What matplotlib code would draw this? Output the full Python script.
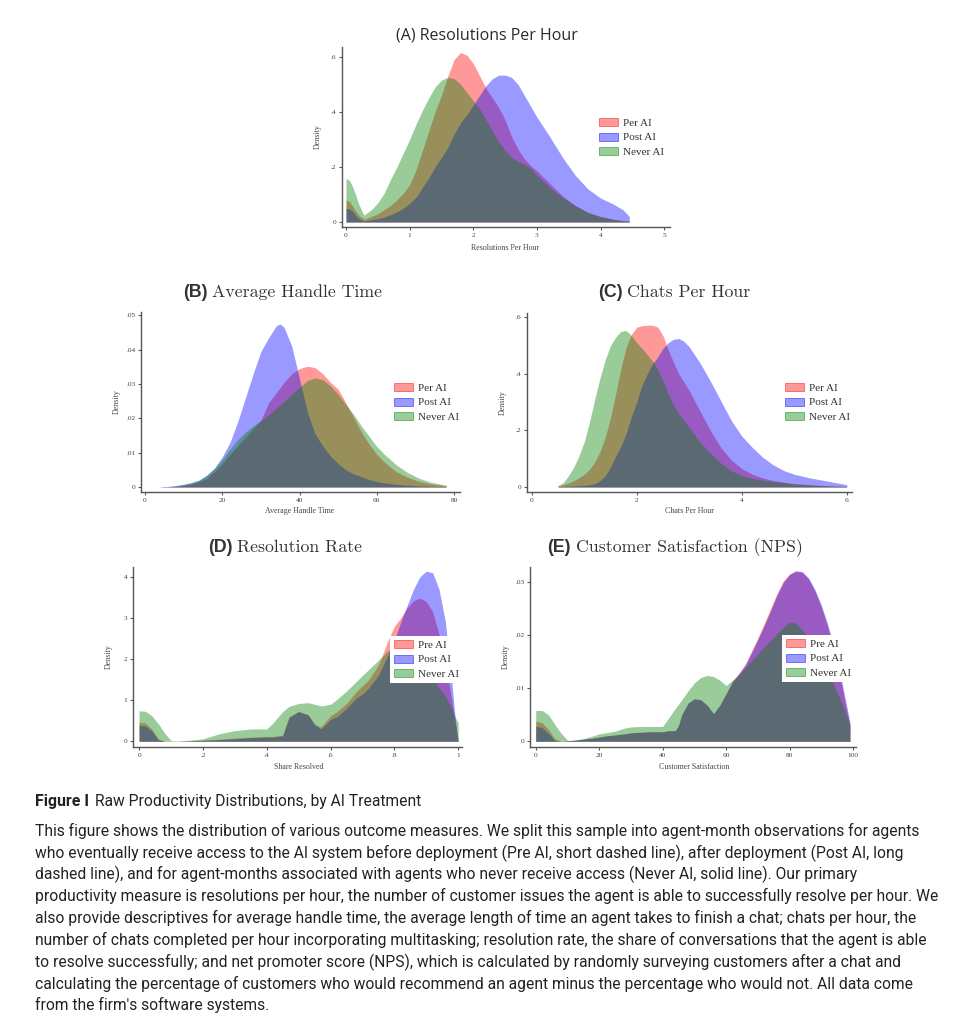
import matplotlib
matplotlib.use('Agg')
import matplotlib.pyplot as plt
from matplotlib.patches import Patch
from matplotlib import font_manager
from matplotlib.font_manager import FontProperties

W, H = 958, 1024

# (A) resolutions per hour
a_x = [0, 0.05, 0.1, 0.15, 0.2, 0.28, 0.4, 0.5, 0.6, 0.7, 0.8, 0.9, 1.0, 1.1, 1.2, 1.3, 1.4, 1.5,
       1.6, 1.7, 1.8, 1.9, 2.0, 2.1, 2.2, 2.3, 2.4, 2.5, 2.6, 2.7, 2.8, 2.9, 3.0, 3.2, 3.4, 3.6,
       3.8, 4.0, 4.2, 4.35, 4.45]
a_pre = [0.08, 0.075, 0.06, 0.04, 0.025, 0.01, 0.02, 0.03, 0.045, 0.06, 0.08, 0.105, 0.135, 0.19,
         0.26, 0.33, 0.40, 0.46, 0.53, 0.59, 0.615, 0.605, 0.575, 0.53, 0.485, 0.45, 0.415, 0.37,
         0.31, 0.265, 0.23, 0.205, 0.185, 0.14, 0.095, 0.06, 0.035, 0.02, 0.01, 0.005, 0.003]
a_post = [0.05, 0.048, 0.04, 0.025, 0.012, 0.004, 0.008, 0.012, 0.018, 0.027, 0.037, 0.05, 0.068,
          0.09, 0.125, 0.16, 0.2, 0.235, 0.27, 0.32, 0.36, 0.39, 0.425, 0.46, 0.495, 0.52, 0.533,
          0.533, 0.525, 0.5, 0.46, 0.42, 0.38, 0.31, 0.235, 0.17, 0.12, 0.087, 0.065, 0.045, 0.02]
a_never = [0.158, 0.152, 0.13, 0.1, 0.065, 0.025, 0.045, 0.07, 0.105, 0.155, 0.2, 0.25, 0.30, 0.355,
           0.405, 0.45, 0.49, 0.515, 0.525, 0.52, 0.5, 0.47, 0.44, 0.41, 0.37, 0.33, 0.29, 0.26,
           0.235, 0.22, 0.21, 0.195, 0.17, 0.125, 0.09, 0.06, 0.035, 0.02, 0.01, 0.006, 0.004]

# (B) average handle time
b_x = [4, 6, 8, 10, 12, 14, 16, 18, 20, 22, 24, 26, 28, 30, 32, 34, 35, 36, 38, 40, 42, 44, 46,
       48, 50, 52, 54, 56, 58, 60, 62, 65, 68, 71, 74, 78]
b_pre = [0.0, 0.0001, 0.0002, 0.0004, 0.0008, 0.0015, 0.0025, 0.0045, 0.0068, 0.0095, 0.012,
         0.0145, 0.017, 0.0195, 0.0245, 0.0275, 0.029, 0.0305, 0.033, 0.0345, 0.0352, 0.0348,
         0.033, 0.0305, 0.0285, 0.0245, 0.0203, 0.016, 0.0125, 0.0095, 0.0072, 0.0045, 0.0028,
         0.0016, 0.0009, 0.0003]
b_post = [0.0001, 0.0002, 0.0004, 0.0008, 0.0013, 0.002, 0.0035, 0.0055, 0.0088, 0.013, 0.019,
          0.026, 0.033, 0.0395, 0.0435, 0.047, 0.0475, 0.0465, 0.041, 0.0315, 0.022, 0.0155,
          0.012, 0.009, 0.0068, 0.005, 0.0038, 0.003, 0.0022, 0.0016, 0.0012, 0.0008, 0.0005,
          0.0003, 0.0002, 0.0001]
b_never = [0.0, 0.0001, 0.0003, 0.0007, 0.0012, 0.002, 0.0033, 0.0055, 0.008, 0.011, 0.0138,
           0.016, 0.0178, 0.0193, 0.021, 0.023, 0.024, 0.025, 0.027, 0.029, 0.031, 0.0318,
           0.0313, 0.0295, 0.027, 0.024, 0.0212, 0.0178, 0.0148, 0.0118, 0.0095, 0.0065, 0.0042,
           0.0025, 0.0014, 0.0005]

# (C) chats per hour
c_x = [0.5, 0.6, 0.7, 0.8, 0.9, 1.0, 1.1, 1.2, 1.3, 1.4, 1.5, 1.6, 1.7, 1.8, 1.9, 2.0, 2.1, 2.2,
       2.3, 2.4, 2.5, 2.6, 2.7, 2.8, 2.9, 3.0, 3.2, 3.4, 3.6, 3.8, 4.0, 4.2, 4.4, 4.6, 4.8, 5.0,
       5.3, 5.6, 6.0]
c_pre = [0.004, 0.008, 0.014, 0.022, 0.032, 0.045, 0.062, 0.088, 0.125, 0.175, 0.245, 0.33, 0.42,
         0.495, 0.54, 0.565, 0.57, 0.572, 0.572, 0.565, 0.535, 0.485, 0.44, 0.4, 0.37, 0.34, 0.27,
         0.2, 0.14, 0.095, 0.065, 0.045, 0.032, 0.023, 0.017, 0.012, 0.008, 0.005, 0.002]
c_post = [0.001, 0.002, 0.003, 0.004, 0.005, 0.006, 0.008, 0.012, 0.022, 0.04, 0.07, 0.11, 0.145,
          0.19, 0.25, 0.3, 0.36, 0.4, 0.435, 0.46, 0.49, 0.51, 0.522, 0.525, 0.515, 0.495, 0.44,
          0.375, 0.305, 0.235, 0.18, 0.14, 0.105, 0.078, 0.058, 0.045, 0.032, 0.022, 0.008]
c_never = [0.005, 0.015, 0.04, 0.07, 0.11, 0.16, 0.23, 0.31, 0.385, 0.45, 0.5, 0.53, 0.55, 0.553,
           0.535, 0.51, 0.49, 0.468, 0.445, 0.415, 0.375, 0.33, 0.29, 0.26, 0.235, 0.21, 0.16, 0.12,
           0.085, 0.058, 0.04, 0.03, 0.024, 0.019, 0.015, 0.011, 0.007, 0.004, 0.002]

# (D) resolution rate
d_x = [0, 0.02, 0.04, 0.06, 0.08, 0.1, 0.12, 0.15, 0.2, 0.25, 0.3, 0.35, 0.4, 0.42, 0.45, 0.47,
       0.5, 0.53, 0.55, 0.57, 0.6, 0.62, 0.65, 0.68, 0.7, 0.72, 0.75, 0.78, 0.8, 0.82, 0.84, 0.86,
       0.88, 0.9, 0.92, 0.94, 0.96, 0.98, 0.99, 1.0]
d_pre = [0.47, 0.44, 0.3, 0.06, 0.0, 0.0, 0.0, 0.01, 0.03, 0.05, 0.08, 0.1, 0.12, 0.12, 0.15, 0.6,
         0.73, 0.65, 0.4, 0.35, 0.62, 0.72, 0.92, 1.2, 1.35, 1.5, 1.85, 2.45, 2.8, 3.0, 3.25, 3.42,
         3.48, 3.4, 3.15, 2.6, 1.9, 1.0, 0.5, 0.0]
d_post = [0.39, 0.37, 0.25, 0.04, 0.0, 0.0, 0.0, 0.01, 0.02, 0.04, 0.06, 0.09, 0.1, 0.1, 0.13,
          0.58, 0.72, 0.64, 0.42, 0.3, 0.53, 0.6, 0.8, 1.05, 1.15, 1.3, 1.6, 2.1, 2.45, 2.9, 3.3,
          3.7, 4.0, 4.14, 4.1, 3.7, 2.9, 1.45, 0.6, 0.0]
d_never = [0.74, 0.73, 0.62, 0.43, 0.2, 0.02, 0.01, 0.02, 0.06, 0.18, 0.26, 0.3, 0.3, 0.45, 0.72,
           0.85, 0.92, 0.94, 0.9, 0.86, 0.9, 1.02, 1.22, 1.45, 1.6, 1.75, 1.97, 2.2, 2.3, 2.32,
           2.3, 2.2, 2.02, 1.8, 1.55, 1.3, 1.1, 0.8, 0.6, 0.45]

# (E) customer satisfaction
e_x = [0, 2, 4, 6, 8, 10, 12, 15, 18, 20, 22, 25, 28, 30, 33, 36, 40, 42, 44, 45, 46, 48, 50, 52,
       54, 56, 58, 60, 62, 64, 66, 68, 70, 72, 74, 76, 78, 80, 82, 84, 86, 88, 90, 92, 94, 96, 98, 99]
e_pre = [0.0038, 0.0035, 0.0022, 0.0005, 0.0, 0.0001, 0.0002, 0.0004, 0.0006, 0.0008, 0.001, 0.0012,
         0.0014, 0.0016, 0.0017, 0.0018, 0.0018, 0.002, 0.002, 0.003, 0.005, 0.0072, 0.008, 0.0078,
         0.0068, 0.0052, 0.0068, 0.009, 0.0113, 0.0128, 0.0145, 0.017, 0.0195, 0.0222, 0.025,
         0.0278, 0.0302, 0.0315, 0.032, 0.0318, 0.0305, 0.0282, 0.0252, 0.0215, 0.017, 0.0118,
         0.0058, 0.003]
e_post = [0.0028, 0.0026, 0.0015, 0.0002, 0.0, 0.0001, 0.0002, 0.0004, 0.0006, 0.0008, 0.001, 0.0012,
          0.0014, 0.0016, 0.0017, 0.0018, 0.0018, 0.002, 0.002, 0.003, 0.005, 0.0072, 0.008, 0.0078,
          0.0068, 0.0052, 0.0068, 0.009, 0.0112, 0.0127, 0.0143, 0.0167, 0.0192, 0.0218, 0.0246,
          0.0275, 0.0299, 0.0314, 0.0321, 0.0319, 0.0307, 0.0285, 0.0256, 0.022, 0.0176, 0.0125,
          0.0065, 0.0035]
e_never = [0.0058, 0.0058, 0.005, 0.0032, 0.0015, 0.0002, 0.0002, 0.0005, 0.001, 0.0014, 0.0016,
           0.0019, 0.0025, 0.0027, 0.0028, 0.0028, 0.0028, 0.0045, 0.0062, 0.007, 0.0078, 0.0095,
           0.011, 0.012, 0.0124, 0.0122, 0.0115, 0.0105, 0.0115, 0.0125, 0.0138, 0.0152, 0.0165,
           0.0178, 0.019, 0.0203, 0.0215, 0.0225, 0.0222, 0.021, 0.0195, 0.0178, 0.0155, 0.013,
           0.0105, 0.0078, 0.0048, 0.003]

COLORS = [(1, 0, 0, 0.4), (0, 0, 1, 0.4), (0, 0.5, 0, 0.4)]
SERIF = 'Liberation Serif'
TEXT = '#333333'


def pick_font(names):
    for name in names:
        try:
            font_manager.findfont(FontProperties(family=name), fallback_to_default=False)
            return name
        except Exception:
            pass
    return 'DejaVu Sans'


def fig_pt(x, y):
    return x / W, 1 - y / H


def panel(fig, box, xlim, ylim, x, series, xticks, xlabels, yticks, ylabels,
          xlabel, xlabel_y, legend_xy, legend_labels):
    left, right, top, bottom = box
    ax = fig.add_axes([left / W, 1 - bottom / H, (right - left) / W, (bottom - top) / H])
    for ys, col in zip(series, COLORS):
        ax.fill_between(x, 0, ys, color=col, linewidth=0)
    ax.set_xlim(*xlim)
    ax.set_ylim(*ylim)
    for s in ['top', 'right']:
        ax.spines[s].set_visible(False)
    for s in ['left', 'bottom']:
        ax.spines[s].set_color('#555555')
        ax.spines[s].set_linewidth(1.0)
    ax.set_xticks(xticks, xlabels)
    ax.set_yticks(yticks, ylabels)
    ax.tick_params(length=2.5, width=0.8, color='#555555', labelsize=5.3, pad=1.5,
                   labelcolor='#444444')
    for lab in ax.get_xticklabels() + ax.get_yticklabels():
        lab.set_fontfamily(SERIF)

    xc = (ax.transData.transform((xticks[0], 0))[0] + ax.transData.transform((xticks[-1], 0))[0]) / 2
    fig.text(xc / W, 1 - xlabel_y / H, xlabel, ha='center', va='center', fontsize=5.7,
             fontfamily=SERIF, color='#444444')
    fig.text((left - 24) / W, 1 - (top + bottom) / 2 / H, 'Density', rotation=90, ha='center',
             va='center', fontsize=5.7, fontfamily=SERIF, color='#444444')

    handles = [Patch(facecolor=c, edgecolor=c[:3] + (0.55,), linewidth=0.6) for c in COLORS]
    ax.legend(handles, legend_labels, loc='upper left', bbox_to_anchor=fig_pt(*legend_xy),
              bbox_transform=fig.transFigure, frameon=True, facecolor='white', edgecolor='none',
              fancybox=False, framealpha=1, borderpad=0.35, borderaxespad=0,
              prop={'family': SERIF, 'size': 8}, handlelength=1.75, handleheight=0.75,
              handletextpad=0.4, labelspacing=0.42, labelcolor='#333333')
    return ax


def panel_title(fig, renderer, cx, base_y, tag, name, tag_font, name_font, size):
    t1 = fig.text(0, 0, tag, fontfamily=tag_font, fontweight='bold', fontsize=size * 1.0,
                  color=TEXT, va='baseline')
    t2 = fig.text(0, 0, name, fontfamily=name_font, fontsize=size, color=TEXT, va='baseline')
    w1 = t1.get_window_extent(renderer).width
    w2 = t2.get_window_extent(renderer).width
    gap = size * 0.35
    x0 = cx - (w1 + gap + w2) / 2
    t1.set_position(fig_pt(x0, base_y))
    t2.set_position(fig_pt(x0 + w1 + gap, base_y))


fig = plt.figure(figsize=(W / 100, H / 100), dpi=100)
fig.patch.set_facecolor('white')
renderer = fig.canvas.get_renderer()

per = ['Per AI', 'Post AI', 'Never AI']
pre = ['Pre AI', 'Post AI', 'Never AI']

panel(fig, (342, 670, 47, 227), (-0.063, 5.09), (-0.018, 0.635), a_x, [a_pre, a_post, a_never],
      [0, 1, 2, 3, 4, 5], ['0', '1', '2', '3', '4', '5'], [0, 0.2, 0.4, 0.6], ['0', '.2', '.4', '.6'],
      'Resolutions Per Hour', 248, (595, 114), per)
panel(fig, (141, 460, 312, 492), (-1.04, 81.55), (-0.00146, 0.051), b_x, [b_pre, b_post, b_never],
      [0, 20, 40, 60, 80], ['0', '20', '40', '60', '80'],
      [0, 0.01, 0.02, 0.03, 0.04, 0.05], ['0', '.01', '.02', '.03', '.04', '.05'],
      'Average Handle Time', 511, (390, 379), per)
panel(fig, (527, 852, 313, 492), (-0.09, 6.1), (-0.0177, 0.615), c_x, [c_pre, c_post, c_never],
      [0, 2, 4, 6], ['0', '2', '4', '6'], [0, 0.2, 0.4, 0.6], ['0', '.2', '.4', '.6'],
      'Chats Per Hour', 511, (781, 379), per)
panel(fig, (133, 462, 567, 747), (-0.019, 1.012), (-0.139, 4.24), d_x, [d_pre, d_post, d_never],
      [0, 0.2, 0.4, 0.6, 0.8, 1.0], ['0', '.2', '.4', '.6', '.8', '1'],
      [0, 1, 2, 3, 4], ['0', '1', '2', '3', '4'],
      'Share Resolved', 767, (390, 636), pre)
panel(fig, (530, 856, 567, 747), (-1.8, 100.9), (-0.00107, 0.0328), e_x, [e_pre, e_post, e_never],
      [0, 20, 40, 60, 80, 100], ['0', '20', '40', '60', '80', '100'],
      [0, 0.01, 0.02, 0.03], ['0', '.01', '.02', '.03'],
      'Customer Satisfaction', 767, (782, 635), pre)

# titles
fig.text(*fig_pt(487, 40), '(A) Resolutions Per Hour', ha='center', va='baseline',
         fontfamily='Open Sans', fontsize=11.5, fontweight='medium', color='#2a2a2a')
panel_title(fig, renderer, 283, 297, '(B)', 'Average Handle Time', 'Liberation Sans', 'cmr10', 12.8)
panel_title(fig, renderer, 674, 297, '(C)', 'Chats Per Hour', 'Liberation Sans', 'cmr10', 12.8)
panel_title(fig, renderer, 285, 552, '(D)', 'Resolution Rate', 'Liberation Sans', 'cmr10', 12.8)
panel_title(fig, renderer, 675, 552, '(E)', 'Customer Satisfaction (NPS)', 'Liberation Sans', 'cmr10', 12.8)

# caption
cap_font = pick_font(['Liberation Sans Narrow', 'Roboto', 'Noto Sans'])
cap_lines = [
    "This figure shows the distribution of various outcome measures. We split this sample into agent-month observations for agents",
    "who eventually receive access to the AI system before deployment (Pre AI, short dashed line), after deployment (Post AI, long",
    "dashed line), and for agent-months associated with agents who never receive access (Never AI, solid line). Our primary",
    "productivity measure is resolutions per hour, the number of customer issues the agent is able to successfully resolve per hour. We",
    "also provide descriptives for average handle time, the average length of time an agent takes to finish a chat; chats per hour, the",
    "number of chats completed per hour incorporating multitasking; resolution rate, the share of conversations that the agent is able",
    "to resolve successfully; and net promoter score (NPS), which is calculated by randomly surveying customers after a chat and",
    "calculating the percentage of customers who would recommend an agent minus the percentage who would not. All data come",
    "from the firm's software systems.",
]
probe = fig.text(0, 0, cap_lines[3], fontfamily=cap_font, fontsize=10)
cap_size = 10 * 902 / probe.get_window_extent(renderer).width
probe.remove()

head = fig.text(*fig_pt(35, 806), 'Figure I', fontfamily=cap_font, fontweight='bold',
                fontsize=cap_size * 1.02, color='#222222', va='baseline')
hw = head.get_window_extent(renderer).width
fig.text(*fig_pt(35 + hw + 6, 806), 'Raw Productivity Distributions, by AI Treatment',
         fontfamily=cap_font, fontsize=cap_size, color='#222222', va='baseline')
for i, line in enumerate(cap_lines):
    fig.text(*fig_pt(35, 836 + i * 21.8), line, fontfamily=cap_font, fontsize=cap_size,
             color='#222222', va='baseline')

fig.savefig('out.png', dpi=100, facecolor='white')
